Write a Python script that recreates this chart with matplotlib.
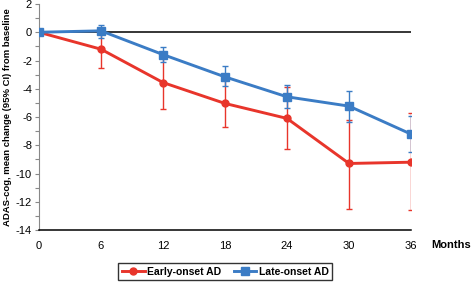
import matplotlib.pyplot as plt

plt.rcParams['font.family'] = ['Liberation Sans', 'DejaVu Sans']
plt.rcParams['axes.unicode_minus'] = False

months = [0, 6, 12, 18, 24, 30, 36]

early_mean = [0, -1.2, -3.56, -5.04, -6.1, -9.29, -9.2]
early_low = [0, -2.5, -5.42, -6.7, -8.3, -12.5, -12.6]
early_high = [0, 0.1, -1.7, -3.4, -3.85, -6.2, -5.75]

late_mean = [0, 0.1, -1.58, -3.16, -4.57, -5.23, -7.21]
late_low = [0, -0.4, -2.1, -3.82, -5.35, -6.34, -8.46]
late_high = [0, 0.54, -1.04, -2.4, -3.72, -4.17, -5.94]

red = '#e8352b'
blue = '#3b7cc5'

fig = plt.figure(figsize=(4.71, 2.82), dpi=100)
ax = fig.add_axes([0.0828, 0.1844, 0.7898, 0.8014])

ax.axhline(0, color='black', lw=1.1, zorder=1)


def series(mean, low, high, color, marker, ms, label):
    err = [[m - l for m, l in zip(mean, low)], [h - m for m, h in zip(mean, high)]]
    ax.errorbar(months, mean, yerr=err, fmt='none', ecolor=color, elinewidth=1,
                capsize=2, capthick=1, zorder=2)
    ax.plot(months, mean, color=color, lw=2.1, marker=marker, ms=ms, label=label, zorder=3)


series(early_mean, early_low, early_high, red, 'o', 5, 'Early-onset AD')
series(late_mean, late_low, late_high, blue, 's', 5.5, 'Late-onset AD')

ax.set_xlim(0, 36)
ax.set_ylim(-14, 2)
ax.set_xticks(months)
ax.set_yticks(range(-14, 3, 2))
ax.set_yticks(range(-14, 3, 1), minor=True)
ax.tick_params(axis='x', length=0, pad=8, labelsize=8)
ax.tick_params(axis='y', which='both', length=3, width=0.8, color='#888888', labelsize=8, pad=2)
for s in ['top', 'right']:
    ax.spines[s].set_visible(False)
ax.spines['left'].set_color('#888888')
ax.spines['bottom'].set_linewidth(1.1)

ax.set_ylabel('ADAS-cog, mean change (95% CI) from baseline', fontsize=6.8, fontweight='bold', labelpad=3)
fig.text(0.915, 0.13, 'Months', fontsize=8, fontweight='bold', va='center')

leg = fig.legend(loc='center', bbox_to_anchor=(0.478, 0.037), ncol=2, frameon=True,
                 fancybox=False, edgecolor='black', prop={'weight': 'bold', 'size': 7.5},
                 handlelength=2.2, handletextpad=0.2, columnspacing=1.2, borderpad=0.35)
leg.get_frame().set_linewidth(1)

fig.savefig('out.png', dpi=100)
